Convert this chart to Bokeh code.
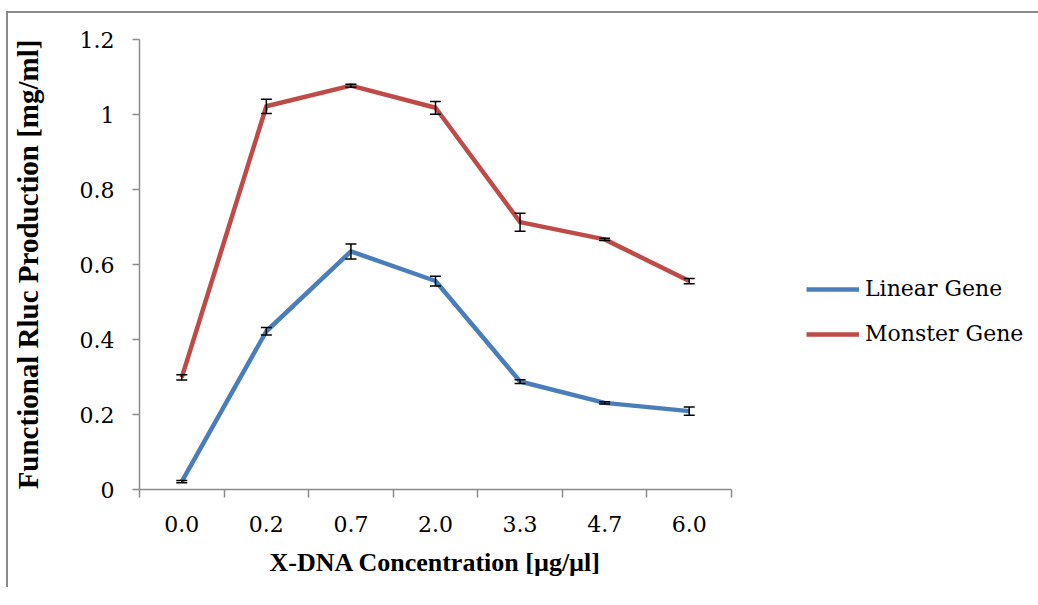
from bokeh.plotting import figure
from bokeh.models import (ColumnDataSource, Range1d, FixedTicker, Whisker, TeeHead,
                          Legend, LegendItem, CustomJSTickFormatter)
from bokeh.embed import file_html
from bokeh.resources import INLINE

# ---- data ----
categories = ["0.0", "0.2", "0.7", "2.0", "3.3", "4.7", "6.0"]
linear_gene = [0.021, 0.422, 0.635, 0.556, 0.288, 0.231, 0.209]
linear_err = [0.003, 0.010, 0.020, 0.013, 0.005, 0.003, 0.011]
monster_gene = [0.299, 1.022, 1.077, 1.018, 0.713, 0.667, 0.556]
monster_err = [0.007, 0.019, 0.004, 0.017, 0.024, 0.003, 0.007]
y_ticks = [0, 0.2, 0.4, 0.6, 0.8, 1.0, 1.2]

x_idx = list(range(len(categories)))

REG = "DejaVu Serif"
BOLD = "Liberation Serif"
AXIS_C = "#8a8a8a"
BLUE = "#4a7ebb"
RED = "#be4b48"

p = figure(width=1022, height=574, frame_width=592, frame_height=450,
           min_border_left=120, min_border_right=302, min_border_top=26, min_border_bottom=98,
           x_range=Range1d(-0.5, 6.5), y_range=Range1d(0, 1.2),
           output_backend="svg", toolbar_location=None)
p.styles = {"border-top": "2px solid #8a8a8a", "border-left": "2px solid #8a8a8a",
            "margin-top": "11px", "margin-left": "6px"}
p.outline_line_color = None
p.xgrid.visible = False
p.ygrid.visible = False
p.background_fill_color = "white"
p.border_fill_color = "white"

# lines
src_l = ColumnDataSource(dict(x=x_idx, y=linear_gene,
                              upper=[v + e for v, e in zip(linear_gene, linear_err)],
                              lower=[v - e for v, e in zip(linear_gene, linear_err)]))
src_m = ColumnDataSource(dict(x=x_idx, y=monster_gene,
                              upper=[v + e for v, e in zip(monster_gene, monster_err)],
                              lower=[v - e for v, e in zip(monster_gene, monster_err)]))
r1 = p.line("x", "y", source=src_l, line_color=BLUE, line_width=4.5, line_join="round")
r2 = p.line("x", "y", source=src_m, line_color=RED, line_width=4.5, line_join="round")

for s in (src_l, src_m):
    w = Whisker(base="x", upper="upper", lower="lower", source=s,
                line_color="black", line_width=1.5,
                upper_head=TeeHead(size=11, line_color="black", line_width=1.5),
                lower_head=TeeHead(size=11, line_color="black", line_width=1.5))
    w.level = "overlay"
    p.add_layout(w)

# x axis
xa = p.xaxis[0]
xa.ticker = FixedTicker(ticks=x_idx, minor_ticks=[i - 0.5 for i in range(len(categories) + 1)])
xa.major_label_overrides = {i: c for i, c in enumerate(categories)}
xa.major_tick_line_color = None
xa.major_tick_out = 0
xa.major_tick_in = 0
xa.minor_tick_line_color = AXIS_C
xa.minor_tick_line_width = 1.5
xa.minor_tick_out = 8
xa.minor_tick_in = 0
xa.axis_line_color = AXIS_C
xa.axis_line_width = 1.5
xa.major_label_text_font = REG
xa.major_label_text_font_size = "22px"
xa.major_label_text_color = "black"
xa.major_label_standoff = 18
xa.axis_label = "X-DNA Concentration [µg/µl]"
xa.axis_label_text_font = BOLD
xa.axis_label_text_font_style = "bold"
xa.axis_label_text_font_size = "26px"
xa.axis_label_text_color = "black"
xa.axis_label_standoff = 13

# y axis
ya = p.yaxis[0]
ya.ticker = FixedTicker(ticks=y_ticks, minor_ticks=[])
ya.formatter = CustomJSTickFormatter(code="return tick.toFixed(1).replace(/\\.0$/, '');")
ya.major_tick_line_color = AXIS_C
ya.major_tick_line_width = 1.5
ya.major_tick_out = 7
ya.major_tick_in = 0
ya.axis_line_color = AXIS_C
ya.axis_line_width = 1.5
ya.major_label_text_font = REG
ya.major_label_text_font_size = "22px"
ya.major_label_text_color = "black"
ya.major_label_standoff = 18
ya.axis_label = "Functional Rluc Production [mg/ml]"
ya.axis_label_text_font = BOLD
ya.axis_label_text_font_style = "bold"
ya.axis_label_text_font_size = "29px"
ya.axis_label_text_color = "black"
ya.axis_label_standoff = 33

legend = Legend(items=[LegendItem(label="Linear Gene", renderers=[r1]),
                       LegendItem(label="Monster Gene", renderers=[r2])],
                location=(75, 143), padding=0, margin=0, spacing=20,
                glyph_width=53, glyph_height=20, label_height=20, label_standoff=6,
                label_text_font=REG, label_text_font_size="22px", label_text_color="black",
                border_line_color=None, background_fill_alpha=0)
p.add_layout(legend, "right")

open("out.html", "w").write(file_html(p, INLINE))
